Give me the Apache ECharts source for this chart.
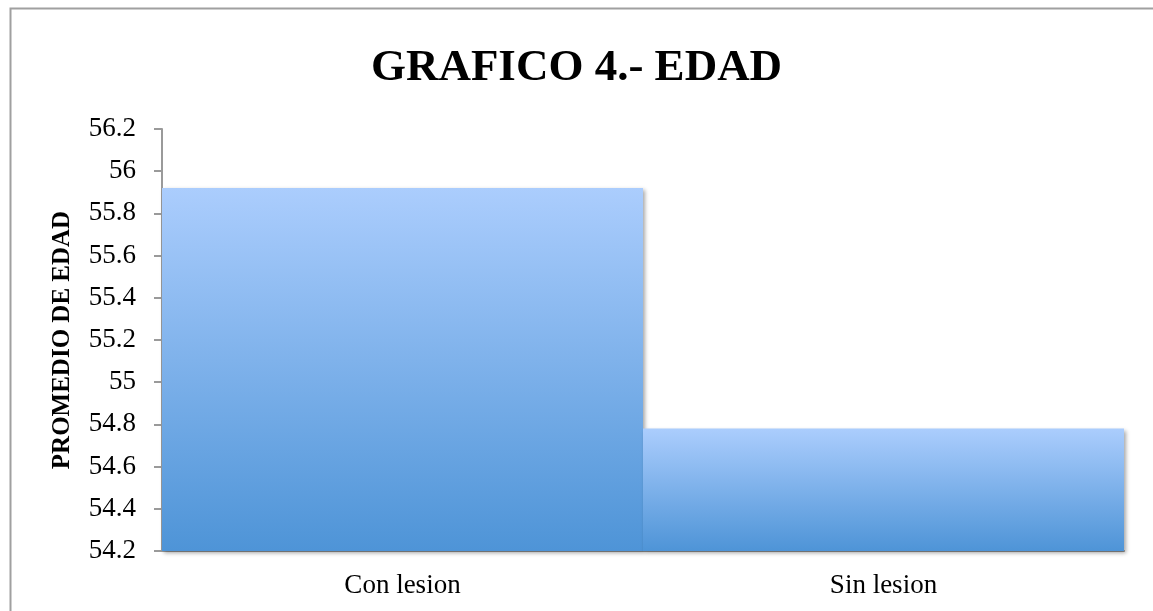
<!DOCTYPE html>
<html>
<head>
<meta charset="utf-8">
<script src="https://cdn.jsdelivr.net/npm/echarts@6/dist/echarts.min.js"></script>
<style>
  html, body { margin: 0; padding: 0; background: #fff; }
  #chart { width: 1153px; height: 611px; }
</style>
</head>
<body>
<div id="chart"></div>
<script>
// data
var categories = ['Con lesion', 'Sin lesion']
var promedioEdad = [55.92, 54.78]
var yMin = 54.2
var yMax = 56.2
var yStep = 0.2

var chart = echarts.init(document.getElementById('chart'))
var serif = '"Liberation Serif", "DejaVu Serif", serif'

chart.setOption({
  animation: false,
  backgroundColor: '#fff',
  title: {
    text: 'GRAFICO 4.- EDAD',
    left: 'center',
    top: 41,
    textStyle: { fontFamily: serif, fontWeight: 'bold', fontSize: 45, color: '#000' }
  },
  graphic: [
    {
      type: 'rect',
      left: 8,
      top: 6,
      shape: { width: 1400, height: 900 },
      style: { fill: 'none', stroke: '#a0a0a0', lineWidth: 2 },
      silent: true
    }
  ],
  grid: { left: 162, right: 29, top: 129, bottom: 60 },
  xAxis: {
    type: 'category',
    data: categories,
    axisLine: { lineStyle: { color: '#9a9a9a', width: 2 } },
    axisTick: { show: false },
    axisLabel: { fontFamily: serif, fontSize: 27, color: '#000', margin: 21 }
  },
  yAxis: {
    type: 'value',
    min: yMin,
    max: yMax,
    interval: yStep,
    name: 'PROMEDIO DE EDAD',
    nameLocation: 'middle',
    nameGap: 87,
    nameTextStyle: { fontFamily: serif, fontWeight: 'bold', fontSize: 25, color: '#000' },
    axisLine: { show: true, lineStyle: { color: '#9a9a9a', width: 2 } },
    axisTick: { show: true, length: 8, lineStyle: { color: '#9a9a9a', width: 2 } },
    splitLine: { show: false },
    axisLabel: {
      fontFamily: serif,
      fontSize: 27,
      color: '#000',
      margin: 26,
      formatter: function (v) { return String(+v.toFixed(1)) }
    }
  },
  series: [
    {
      type: 'bar',
      data: promedioEdad,
      barCategoryGap: '0%',
      itemStyle: {
        color: new echarts.graphic.LinearGradient(0, 0, 0, 1, [
          { offset: 0, color: '#abcdfd' },
          { offset: 1, color: '#4e94d7' }
        ]),
        shadowColor: 'rgba(0,0,0,0.35)',
        shadowBlur: 4,
        shadowOffsetX: 2,
        shadowOffsetY: 2
      }
    }
  ]
})
</script>
</body>
</html>
